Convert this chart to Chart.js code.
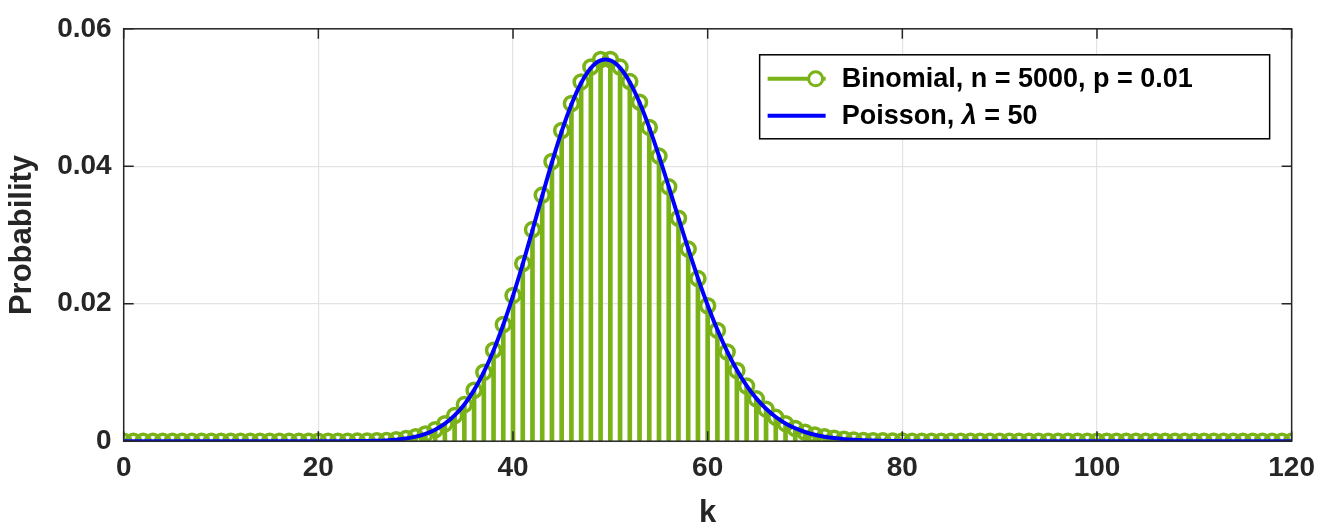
<!DOCTYPE html>
<html><head><meta charset="utf-8">
<script src="https://cdn.jsdelivr.net/npm/chart.js@4/dist/chart.umd.min.js"></script>
<style>html,body{margin:0;background:#fff}#w{width:1325px;height:532px}</style>
</head><body><div id="w"><canvas id="c"></canvas></div>
<script>
const kValues = Array.from({length:121},(_,i)=>i);
const binomSparse = {22:0.00001,23:0.00001,24:0.00002,25:0.00003,26:0.00006,27:0.00011,28:0.00021,29:0.00038,30:0.00065,31:0.00106,32:0.00166,33:0.00253,34:0.00373,35:0.00533,36:0.00742,37:0.01004,38:0.01323,39:0.01698,40:0.02121,41:0.02586,42:0.03079,43:0.03581,44:0.04069,45:0.04521,46:0.04914,47:0.05227,48:0.05444,49:0.05554,50:0.05553,51:0.05443,52:0.05232,53:0.04933,54:0.04565,55:0.04148,56:0.03701,57:0.03244,58:0.02795,59:0.02366,60:0.01970,61:0.01612,62:0.01298,63:0.01028,64:0.00802,65:0.00616,66:0.00466,67:0.00347,68:0.00255,69:0.00184,70:0.00131,71:0.00092,72:0.00064,73:0.00043,74:0.00029,75:0.00019,76:0.00012,77:0.00008,78:0.00005,79:0.00003,80:0.00002};
const poissonSparse = {22:0.00001,23:0.00001,24:0.00002,25:0.00003,26:0.00006,27:0.00012,28:0.00022,29:0.00039,30:0.00067,31:0.00108,32:0.00168,33:0.00255,34:0.00375,35:0.00535,36:0.00743,37:0.01004,38:0.01321,39:0.01694,40:0.02115,41:0.02578,42:0.03069,43:0.03569,44:0.04056,45:0.04507,46:0.04899,47:0.05212,48:0.05429,49:0.05540,50:0.05540,51:0.05432,52:0.05223,53:0.04927,54:0.04562,55:0.04148,56:0.03703,57:0.03249,58:0.02801,59:0.02374,60:0.01979,61:0.01621,62:0.01307,63:0.01037,64:0.00810,65:0.00623,66:0.00472,67:0.00352,68:0.00259,69:0.00188,70:0.00134,71:0.00094,72:0.00066,73:0.00045,74:0.00030,75:0.00020,76:0.00013,77:0.00009,78:0.00005,79:0.00003,80:0.00002};
const yTicks = [0,0.02,0.04,0.06];
const xTicks = [0,20,40,60,80,100,120];
const binom = kValues.map(k=>({x:k,y:binomSparse[k]||0}));
const poisson = kValues.map(k=>({x:k,y:poissonSparse[k]||0}));
const G='#7AB317', B='#0000FF';
const F='"Liberation Sans", Arial, sans-serif';
const legendPlugin={id:'lg',afterDraw(ch){
 const c=ch.ctx,a=ch.chartArea;const x=a.right-532,y=a.top+26,w=510,h=84;
 c.save();c.fillStyle='#fff';c.fillRect(x,y,w,h);c.strokeStyle='#000';c.lineWidth=1.5;c.strokeRect(x,y,w,h);
 c.lineWidth=4;c.strokeStyle=G;c.beginPath();c.moveTo(x+8,y+24);c.lineTo(x+66,y+24);c.stroke();
 c.lineWidth=3;c.fillStyle='#fff';c.beginPath();c.arc(x+56,y+24,7,0,Math.PI*2);c.fill();c.stroke();
 c.lineWidth=4;c.strokeStyle=B;c.beginPath();c.moveTo(x+8,y+61);c.lineTo(x+66,y+61);c.stroke();
 c.fillStyle='#000';c.textBaseline='middle';c.font='bold 27px '+F;
 c.fillText('Binomial, n = 5000, p = 0.01',x+82,y+25);
 c.fillText('Poisson, ',x+82,y+62);let tw=c.measureText('Poisson, ').width;
 c.font='italic bold 27px '+F;c.fillText('λ',x+82+tw,y+62);let lw=c.measureText('λ').width;
 c.font='bold 27px '+F;c.fillText(' = 50',x+82+tw+lw,y+62);c.restore();}};
const boxPlugin={id:'bx',afterDatasetsDraw(ch){const c=ch.ctx,a=ch.chartArea;c.save();c.strokeStyle='#262626';c.lineWidth=1.5;c.strokeRect(a.left,a.top,a.right-a.left,a.bottom-a.top);
 const xs=ch.scales.x,ys=ch.scales.y;c.beginPath();xTicks.forEach(t=>{const p=xs.getPixelForValue(t);c.moveTo(p,a.bottom);c.lineTo(p,a.bottom-10);c.moveTo(p,a.top);c.lineTo(p,a.top+10);});
 yTicks.forEach(t=>{const p=ys.getPixelForValue(t);c.moveTo(a.left,p);c.lineTo(a.left+10,p);c.moveTo(a.right,p);c.lineTo(a.right-10,p);});c.stroke();c.restore();}};
new Chart(document.getElementById('c'),{
 data:{datasets:[
  {type:'line',data:poisson,borderColor:B,borderWidth:4,pointRadius:0,tension:0.3,order:0},
  {type:'scatter',data:binom,borderColor:G,backgroundColor:'rgba(0,0,0,0)',borderWidth:3.5,pointRadius:7,order:1},
  {type:'bar',data:binom,backgroundColor:G,barThickness:4,order:2}
 ]},
 options:{responsive:true,maintainAspectRatio:false,animation:false,
  layout:{padding:{left:0,right:32,top:18,bottom:0}},
  plugins:{legend:{display:false},tooltip:{enabled:false}},
  scales:{
   x:{type:'linear',offset:false,min:0,max:120,afterBuildTicks:s=>{s.ticks=xTicks.map(v=>({value:v}))},
    grid:{color:'#e3e3e3',drawTicks:false,lineWidth:1.2,offset:false},border:{display:false},
    ticks:{color:'#262626',font:{family:F,size:28,weight:'bold'},padding:10},
    title:{display:true,text:'k',color:'#262626',font:{family:F,size:31,weight:'bold'},padding:{top:0,bottom:0}}},
   y:{min:0,max:0.06,afterBuildTicks:s=>{s.ticks=yTicks.map(v=>({value:v}))},
    grid:{color:'#e3e3e3',drawTicks:false,lineWidth:1.2},border:{display:false},
    ticks:{color:'#262626',font:{family:F,size:28,weight:'bold'},padding:12,callback:v=>v===0?'0':v.toFixed(2)},
    title:{display:true,text:'Probability',color:'#262626',font:{family:F,size:31,weight:'bold'},padding:{bottom:4}}}
  }},
 plugins:[boxPlugin,legendPlugin]});
</script></body></html>
